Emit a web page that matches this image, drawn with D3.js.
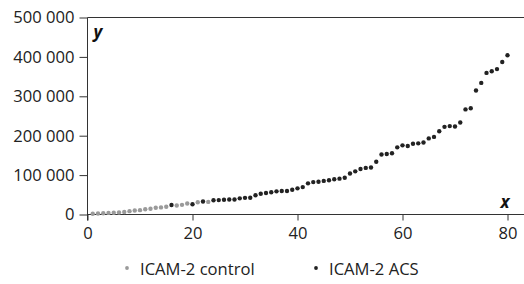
<!DOCTYPE html>
<html>
<head>
<meta charset="utf-8">
<script src="https://cdn.jsdelivr.net/npm/d3@7"></script>
<style>
	body { margin: 0; background: #fff; }
	svg { display: block; font-family: "Open Sans", sans-serif; }
	.axis text { font-size: 16.6px; fill: #222; font-family: "Open Sans", sans-serif; }
	.axis line { stroke: #333; }
</style>
</head>
<body>
<svg id="chart" width="524" height="284"></svg>
<script>
const W = 524, H = 284;

// rank (x) and value (y) of each sample
const controlRank = [1,2,3,4,5,6,7,8,9,10,11,12,13,14,15,17,18,19,21,23];
const controlValue = [2000,2500,3000,4000,4500,5000,6500,8500,10000,11000,13500,14500,17000,18000,19500,23000,24500,28000,31000,32000];

const acsRank = [16,20,22,24,25,26,27,28,29,30,31,32,33,34,35,36,37,38,39,40,
	41,42,43,44,45,46,47,48,49,50,51,52,53,54,55,56,57,58,59,60,
	61,62,63,64,65,66,67,68,69,70,71,72,73,74,75,76,77,78,79,80];
const acsValue = [24000,26000,33000,36000,36500,37500,38000,38000,41000,42200,42700,49000,52800,54500,56600,58700,59500,59500,62900,66400,
	69600,79000,82200,83200,85300,87000,89600,91000,93400,104000,109500,115300,118300,119300,134000,152300,153600,155600,170400,175500,
	173700,179700,180600,182700,193200,197000,211400,222400,224400,223300,233500,266800,269800,314700,334000,359400,363700,369000,387000,404000];

const xTicks = [0, 20, 40, 60, 80];
const yTicks = [0, 100000, 200000, 300000, 400000, 500000];
const legendNames = ['ICAM-2 control', 'ICAM-2 ACS'];
const colors = ['#9a9a9a', '#222'];

function chart() {
	let svg = d3.select('#chart');
	let x = d3.scaleLinear().domain([0, 80]).range([87.5, 507.5]);
	let y = d3.scaleLinear().domain([0, 500000]).range([214.5, 17.5]);
	let fmt = (d) => d3.format(',')(d).replace(/,/g, ' ');

	let yAxis = d3.axisLeft(y).tickValues(yTicks).tickFormat(fmt).tickSizeInner(8).tickSizeOuter(0).tickPadding(5);
	let xAxis = d3.axisBottom(x).tickValues(xTicks).tickSizeInner(6).tickSizeOuter(0).tickPadding(7);

	svg.append('g')
		.attr('class', 'y axis')
		.attr('transform', `translate(${x(0)},0)`)
		.call(yAxis)
		.call(g => g.select('.domain').remove());
	svg.append('g')
		.attr('class', 'x axis')
		.attr('transform', `translate(0,${y(0)})`)
		.call(xAxis)
		.call(g => g.select('.domain').remove());

	// frame: left, bottom and top lines
	svg.append('line').attr('x1', x(0)).attr('x2', x(0)).attr('y1', y(500000)).attr('y2', y(0) + 6)
		.attr('stroke', '#333');
	svg.append('line').attr('x1', x(0)).attr('x2', W).attr('y1', y(0)).attr('y2', y(0))
		.attr('stroke', '#333');
	svg.append('line').attr('x1', x(0)).attr('x2', W).attr('y1', y(500000)).attr('y2', y(500000))
		.attr('stroke', '#333');

	svg.append('text').attr('x', x(0) + 6).attr('y', 38)
		.attr('font-size', 17).attr('font-style', 'italic').attr('font-weight', 'bold').attr('fill', '#111')
		.text('y');
	svg.append('text').attr('x', x(80) - 7).attr('y', 208)
		.attr('font-size', 17).attr('font-style', 'italic').attr('font-weight', 'bold').attr('fill', '#111')
		.text('x');

	let series = [
		{ rank: controlRank, value: controlValue },
		{ rank: acsRank, value: acsValue }
	];
	series.forEach((s, k) => {
		svg.append('g')
			.selectAll('circle')
				.data(s.rank)
			.enter().append('circle')
				.attr('cx', (d) => x(d))
				.attr('cy', (d, i) => y(s.value[i]))
				.attr('r', 2.2)
				.attr('fill', colors[k]);
	});

	// legend
	let lx = [127, 316];
	legendNames.forEach((name, k) => {
		svg.append('circle').attr('cx', lx[k]).attr('cy', 268).attr('r', 1.9).attr('fill', colors[k]);
		svg.append('text').attr('x', lx[k] + 13).attr('y', 275)
			.attr('font-size', 16.6).attr('fill', '#222')
			.text(name);
	});
}

chart();
</script>
</body>
</html>
